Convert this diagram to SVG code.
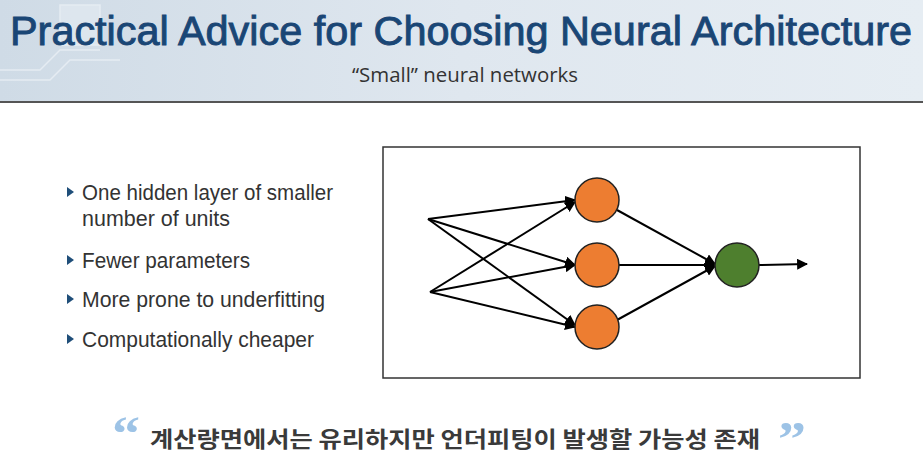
<svg xmlns="http://www.w3.org/2000/svg" width="923" height="466" viewBox="0 0 923 466">
<defs>
<linearGradient id="hdr" x1="0" y1="0" x2="1" y2="0">
<stop offset="0" stop-color="#cfdbe6"/>
<stop offset="0.5" stop-color="#dfe7ef"/>
<stop offset="1" stop-color="#e6edf3"/>
</linearGradient>
<marker id="ah2" viewBox="0 0 10 10" refX="9" refY="5" markerWidth="11" markerHeight="11" markerUnits="userSpaceOnUse" orient="auto">
<path d="M0,0 L10,5 L0,10 z" fill="#000"/>
</marker>
</defs>
<style>
.title{font-family:"Liberation Sans","Open Sans",sans-serif;font-size:40px;fill:#1a4675;stroke:#1a4675;stroke-width:0.9}
.sub{font-family:"Open Sans","Liberation Sans",sans-serif;font-size:20px;fill:#333}
.bul{font-family:"Liberation Sans","Open Sans",sans-serif;font-size:22px;fill:#333}
.tri{fill:#1f4e79}
.edge{stroke:#000;stroke-width:2;fill:none;marker-end:url(#ah2)}
.hid{fill:#ed7d31;stroke:#222;stroke-width:1.5}
.out{fill:#4e7f2e;stroke:#222;stroke-width:1.5}
.kr{font-family:"Noto Sans CJK KR",sans-serif;font-weight:bold;font-size:22px;fill:#3a3a3a}
.q{font-family:"Liberation Serif",serif;font-weight:bold;font-size:48px;fill:#9dc3e6}
</style>
<rect width="923" height="466" fill="#ffffff"/>
<g id="header">
<rect x="0" y="0" width="923" height="102" fill="url(#hdr)"/>
<g stroke="#eef3f8" stroke-width="1.5" fill="none" opacity="0.7">
<path d="M0,70 L40,70 L60,50 L100,50"/>
<path d="M0,80 L50,80 L70,60 L120,60"/>
<rect x="60" y="5" width="40" height="40" fill="#e3eaf1"/>
</g>
<line x1="0" y1="102" x2="923" y2="102" stroke="#555" stroke-width="2"/>
<text class="title" x="10" y="45" textLength="902" lengthAdjust="spacingAndGlyphs">Practical Advice for Choosing Neural Architecture</text>
<text class="sub" x="352" y="82" textLength="226" lengthAdjust="spacingAndGlyphs">“Small” neural networks</text>
</g>
<g id="bullets">
<path class="tri" d="M67,187 L74,192 L67,197 z"/>
<text class="bul" x="82" y="200" textLength="251" lengthAdjust="spacingAndGlyphs">One hidden layer of smaller</text>
<text class="bul" x="82" y="226" textLength="148" lengthAdjust="spacingAndGlyphs">number of units</text>
<path class="tri" d="M67,255 L74,260 L67,265 z"/>
<text class="bul" x="82" y="268" textLength="168" lengthAdjust="spacingAndGlyphs">Fewer parameters</text>
<path class="tri" d="M67,294 L74,299 L67,304 z"/>
<text class="bul" x="82" y="307" textLength="243" lengthAdjust="spacingAndGlyphs">More prone to underfitting</text>
<path class="tri" d="M67,334 L74,339 L67,344 z"/>
<text class="bul" x="82" y="347" textLength="232" lengthAdjust="spacingAndGlyphs">Computationally cheaper</text>
</g>
<rect id="frame" x="383" y="147" width="477" height="231" fill="#fff" stroke="#333" stroke-width="1.5"/>
<g id="connectors">
<line class="edge" x1="428" y1="219" x2="575" y2="200"/>
<line class="edge" x1="428" y1="219" x2="575" y2="265"/>
<line class="edge" x1="428" y1="219" x2="575" y2="325"/>
<line class="edge" x1="430" y1="292" x2="575" y2="202"/>
<line class="edge" x1="430" y1="292" x2="575" y2="265"/>
<line class="edge" x1="430" y1="292" x2="575" y2="327"/>
<line class="edge" x1="617" y1="210" x2="715" y2="264"/>
<line class="edge" x1="619" y1="265" x2="715" y2="265"/>
<line class="edge" x1="617" y1="320" x2="715" y2="266"/>
<line class="edge" x1="759" y1="265" x2="807" y2="264"/>
</g>
<g id="h1"><circle class="hid" cx="597" cy="200" r="22"/></g>
<g id="h2"><circle class="hid" cx="597" cy="265" r="22"/></g>
<g id="h3"><circle class="hid" cx="597" cy="327" r="22"/></g>
<g id="o1"><circle class="out" cx="737" cy="265" r="22"/></g>
<g id="quote">
<text class="q" x="112" y="450" textLength="28" lengthAdjust="spacingAndGlyphs">“</text>
<text class="kr" x="150" y="447" textLength="610" lengthAdjust="spacingAndGlyphs">계산량면에서는 유리하지만 언더피팅이 발생할 가능성 존재</text>
<text class="q" x="778" y="455" textLength="28" lengthAdjust="spacingAndGlyphs">”</text>
</g>
</svg>
